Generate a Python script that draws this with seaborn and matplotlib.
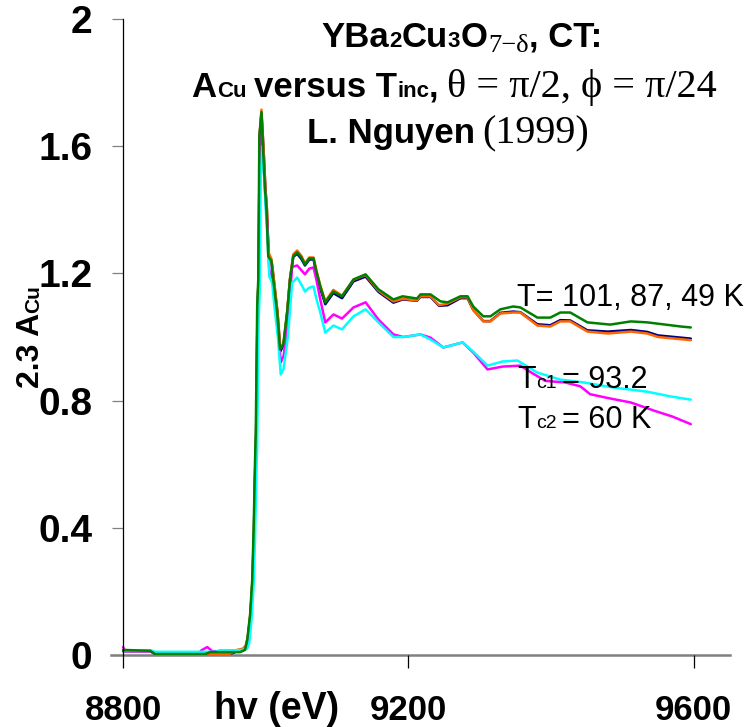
import matplotlib
matplotlib.use("Agg")
import matplotlib.pyplot as plt
import seaborn as sns
import pandas as pd
from matplotlib.transforms import IdentityTransform

# ---------------- data ----------------
series_names = ["T=101 K (navy)", "T=87 K (orange)", "Tc2 (magenta)", "Tc1 (cyan)", "T=49 K (green)"]
series_colors = ["#000080", "#FF6600", "#FF00FF", "#00FFFF", "#008000"]

navy_x = [8800, 8838, 8845, 8950, 8958, 8968, 8972, 8975, 8978.5, 8981.5,
          8983.5, 8985.5, 8986.5, 8988.5, 8990, 8991.5, 8994, 8997, 8999.5, 9001.5,
          9004, 9008, 9011, 9016.5, 9020.5, 9025, 9030, 9034, 9038.6, 9044,
          9050, 9055, 9061, 9067, 9071, 9076.5, 9083.5, 9094.7, 9107, 9123,
          9140, 9158, 9179, 9192, 9212, 9217, 9231, 9243, 9255, 9273,
          9283, 9291, 9305, 9315, 9329, 9347, 9357, 9381, 9399, 9413,
          9427, 9451, 9480, 9512, 9535, 9550, 9596]
navy_y = [0.012, 0.012, 0.003, 0.003, 0.01, 0.015, 0.025, 0.055, 0.125, 0.235,
          0.395, 0.615, 0.695, 1.095, 1.185, 1.635, 1.705, 1.585, 1.468, 1.405,
          1.26, 1.24, 1.185, 1.075, 0.955, 0.975, 1.075, 1.18, 1.252, 1.262,
          1.245, 1.225, 1.243, 1.245, 1.2, 1.152, 1.103, 1.138, 1.122, 1.175,
          1.19, 1.142, 1.108, 1.118, 1.114, 1.126, 1.126, 1.098, 1.1, 1.122,
          1.122, 1.085, 1.05, 1.05, 1.076, 1.08, 1.078, 1.04, 1.037, 1.053,
          1.052, 1.021, 1.017, 1.022, 1.016, 1.005, 0.995]

orange_x = [8800, 8838, 8845, 8950, 8958, 8968, 8972, 8975, 8978.5, 8981.5,
            8983.5, 8985.5, 8986.5, 8988.5, 8990, 8991.5, 8994, 8997, 8999.5, 9001.5,
            9004, 9008, 9011, 9016.5, 9020.5, 9025, 9030, 9034, 9038.6, 9044,
            9050, 9055, 9061, 9067, 9071, 9076.5, 9083.5, 9094.7, 9107, 9123,
            9140, 9158, 9179, 9192, 9212, 9217, 9231, 9243, 9255, 9273,
            9283, 9291, 9305, 9315, 9329, 9347, 9357, 9381, 9399, 9413,
            9427, 9451, 9480, 9512, 9535, 9550, 9596]
orange_y = [0.015, 0.015, 0.004, 0.004, 0.015, 0.02, 0.03, 0.06, 0.13, 0.24,
            0.40, 0.62, 0.70, 1.10, 1.19, 1.64, 1.715, 1.59, 1.47, 1.41,
            1.265, 1.245, 1.19, 1.08, 0.965, 0.98, 1.08, 1.185, 1.26, 1.272,
            1.255, 1.232, 1.25, 1.25, 1.21, 1.162, 1.112, 1.148, 1.13, 1.18,
            1.195, 1.146, 1.112, 1.12, 1.115, 1.128, 1.128, 1.1, 1.105, 1.125,
            1.125, 1.085, 1.049, 1.049, 1.074, 1.077, 1.077, 1.036, 1.033, 1.049,
            1.049, 1.017, 1.011, 1.017, 1.011, 1.0, 0.99]

magenta_x = [8800, 8803, 8838, 8845, 8905, 8910, 8918, 8925, 8965, 8972,
             8975, 8979, 8982, 8984, 8986, 8987, 8989, 8990.5, 8992, 8994.5,
             8997, 9000, 9002, 9005, 9009, 9012, 9017, 9021, 9025, 9031,
             9037, 9044, 9050, 9055, 9061, 9067, 9071, 9076.5, 9083.5, 9095,
             9107, 9123, 9140, 9158, 9179, 9193, 9217, 9231, 9249, 9276,
             9291, 9311, 9332, 9357, 9371, 9392, 9420, 9441, 9455, 9480,
             9512, 9545, 9570, 9596]
magenta_y = [0.025, 0.012, 0.012, 0.003, 0.003, 0.015, 0.025, 0.012, 0.012, 0.02,
             0.045, 0.12, 0.23, 0.385, 0.60, 0.69, 1.08, 1.17, 1.60, 1.66,
             1.54, 1.42, 1.36, 1.21, 1.19, 1.14, 1.04, 0.92, 0.94, 1.04,
             1.22, 1.225, 1.21, 1.197, 1.215, 1.219, 1.18, 1.118, 1.046, 1.071,
             1.058, 1.093, 1.109, 1.055, 1.008, 1.0, 1.008, 0.998, 0.967, 0.983,
             0.951, 0.898, 0.907, 0.91, 0.89, 0.862, 0.857, 0.845, 0.82, 0.808,
             0.794, 0.768, 0.75, 0.726]

cyan_x = [8800, 8838, 8845, 8930, 8936, 8965, 8974, 8977, 8980, 8983,
          8985, 8987, 8988, 8990, 8991.5, 8993, 8995, 8997.5, 9000, 9002,
          9005, 9009, 9012, 9017, 9021, 9025, 9031, 9037, 9044, 9050,
          9055, 9061, 9067, 9071, 9076.5, 9083.5, 9095, 9107, 9123, 9140,
          9158, 9179, 9193, 9217, 9231, 9249, 9276, 9291, 9311, 9332,
          9353, 9381, 9413, 9446, 9488, 9535, 9568, 9596]
cyan_y = [0.015, 0.015, 0.01, 0.01, 0.015, 0.015, 0.02, 0.04, 0.11, 0.22,
          0.37, 0.58, 0.67, 1.05, 1.14, 1.50, 1.60, 1.52, 1.40, 1.33,
          1.19, 1.17, 1.10, 1.0, 0.882, 0.90, 1.0, 1.17, 1.187, 1.165,
          1.143, 1.155, 1.159, 1.12, 1.077, 1.014, 1.036, 1.024, 1.065, 1.087,
          1.046, 1.0, 1.0, 1.008, 0.992, 0.967, 0.983, 0.954, 0.91, 0.923,
          0.926, 0.888, 0.866, 0.857, 0.841, 0.828, 0.813, 0.803]

green_x = [8800, 8838, 8845, 8915, 8922, 8964, 8971, 8974, 8978, 8981,
           8983, 8985, 8986, 8988, 8989.5, 8991, 8994, 8996.5, 8999, 9001,
           9003.5, 9008, 9010.5, 9016, 9020, 9024.5, 9030, 9034, 9038.6, 9044,
           9050, 9055, 9061, 9067, 9071, 9076.5, 9083.5, 9094.7, 9107, 9123,
           9140, 9158, 9179, 9192, 9212, 9217, 9231, 9245, 9255, 9273,
           9283, 9291, 9305, 9315, 9329, 9347, 9357, 9381, 9399, 9413,
           9427, 9451, 9483, 9512, 9535, 9582, 9596]
green_y = [0.016, 0.013, 0.003, 0.003, 0.009, 0.009, 0.016, 0.047, 0.126, 0.236,
           0.394, 0.614, 0.699, 1.096, 1.181, 1.63, 1.707, 1.58, 1.465, 1.40,
           1.254, 1.238, 1.181, 1.077, 0.961, 0.976, 1.077, 1.181, 1.254, 1.266,
           1.25, 1.228, 1.247, 1.247, 1.206, 1.159, 1.109, 1.143, 1.128, 1.181,
           1.197, 1.15, 1.118, 1.128, 1.121, 1.134, 1.134, 1.112, 1.109, 1.128,
           1.128, 1.096, 1.065, 1.065, 1.087, 1.096, 1.093, 1.061, 1.061, 1.077,
           1.077, 1.046, 1.039, 1.049, 1.046, 1.033, 1.03]

x_ticks = [8800, 9200, 9600]
x_tick_labels = ["8800", "9200", "9600"]
y_ticks = [0, 0.4, 0.8, 1.2, 1.6, 2.0]
y_tick_labels = ["0", "0.4", "0.8", "1.2", "1.6", "2"]

# ---------------- figure ----------------
sns.set_theme(style="white")
plt.rcParams["font.family"] = ["Liberation Sans", "DejaVu Sans"]

W, H = 749, 727
fig = plt.figure(figsize=(W / 100, H / 100), dpi=100)
ax = fig.add_axes([111 / W, 1 - 655 / H, 619 / W, (655 - 19) / H])

xs = [navy_x, orange_x, magenta_x, cyan_x, green_x]
ys = [navy_y, orange_y, magenta_y, cyan_y, green_y]
df = pd.concat([pd.DataFrame({"hv": x, "A": y, "series": n})
                for x, y, n in zip(xs, ys, series_names)], ignore_index=True)

sns.lineplot(data=df, x="hv", y="A", hue="series", hue_order=series_names,
             palette=dict(zip(series_names, series_colors)), estimator=None,
             sort=False, legend=False, linewidth=1.8, ax=ax)

ax.set_xlim(8783, 9651)
ax.set_ylim(0, 2)
ax.set_xlabel("")
ax.set_ylabel("")
for s in ["top", "right"]:
    ax.spines[s].set_visible(False)
ax.spines["left"].set_position(("data", 8800))
ax.spines["left"].set_color("black")
ax.spines["left"].set_linewidth(0.9)
ax.spines["bottom"].set_color("#808080")
ax.spines["bottom"].set_linewidth(1.8)
ax.spines["bottom"].set_zorder(0.5)

ax.set_xticks(x_ticks)
ax.set_xticklabels(x_tick_labels, fontsize=25, fontweight="bold")
ax.set_yticks(y_ticks)
ax.set_yticklabels(y_tick_labels, fontsize=28, fontweight="bold")
ax.tick_params(axis="x", bottom=True, direction="out", length=9, width=0.9,
               color="black", pad=19, labelcolor="black")
ax.tick_params(axis="y", left=True, direction="out", length=8, width=0.9,
               color="#808080", pad=14, labelcolor="black")

BOLD = dict(family=["Liberation Sans", "DejaVu Sans"], weight="bold", color="black")
SANS = dict(family=["Liberation Sans", "DejaVu Sans"], color="black")
SERIF = dict(family=["Liberation Serif", "DejaVu Serif"], color="black")

renderer = fig.canvas.get_renderer()


def rich(x, y_top, pieces, ha="left", rotation=0):
    """pieces: (text, size, style, gap_before_px, drop_px). x/y in image px (y from top)."""
    y = H - y_top
    items = []
    for s, size, style, gap, drop in pieces:
        t = fig.text(0, 0, s, transform=IdentityTransform(), ha="left", va="baseline",
                     rotation=rotation, rotation_mode="anchor", fontsize=size, **style)
        bb = t.get_window_extent(renderer)
        length = bb.height if rotation == 90 else bb.width
        items.append((t, gap, drop, length))
    total = sum(g + l for _, g, _, l in items)
    pos = (x if rotation == 0 else y)
    if ha == "center":
        pos -= total / 2
    for t, gap, drop, length in items:
        pos += gap
        if rotation == 90:
            t.set_position((x + drop, pos))
        else:
            t.set_position((pos, y - drop))
        pos += length


# title
rich(462, 47, [("YBa", 25, BOLD, 0, 0), ("2", 16, BOLD, 0, 0), ("Cu", 25, BOLD, 0, 0),
               ("3", 16, BOLD, 0, 0), ("O", 25, BOLD, 0, 0), ("7\u2212\u03b4", 19, SERIF, 1, 5),
               (", CT:", 25, BOLD, 0, 0)], ha="center")
rich(454, 97, [("A", 25, BOLD, 0, 0), ("Cu", 16, BOLD, 0, 0), ("versus T", 25, BOLD, 8, 0),
               ("inc", 16, BOLD, 0, 0), (",", 25, BOLD, 0, 0),
               ("\u03b8 = \u03c0/2, \u03d5 = \u03c0/24", 29, SERIF, 8, 0)], ha="center")
rich(448, 143, [("L. Nguyen", 25, BOLD, 0, 0), ("(1999)", 29, SERIF, 8, 0)], ha="center")


def data_px(xd, yd):
    px, py = ax.transData.transform((xd, yd))
    return px, H - py


# in-plot annotations
lx, ly = data_px(9353, 1.096)
rich(lx, ly, [("T= 101, 87, 49 K", 22, SANS, 0, 0)])
lx, ly = data_px(9353, 0.841)
rich(lx, ly, [("T", 22, SANS, 0, 0), ("c1", 14, SANS, 0, 0), ("= 93.2", 22, SANS, 5, 0)])
lx, ly = data_px(9353, 0.715)
rich(lx, ly, [("T", 22, SANS, 0, 0), ("c2", 14, SANS, 0, 0), ("= 60 K", 22, SANS, 5, 0)])

# axis titles
rich(39, 388, [("2.3 A", 23, BOLD, 0, 0), ("Cu", 15, BOLD, 0, 0)], rotation=90)
rich(277, 719, [("hv (eV)", 27, BOLD, 0, 0)], ha="center")

fig.savefig("out.png", dpi=100, facecolor="white")
